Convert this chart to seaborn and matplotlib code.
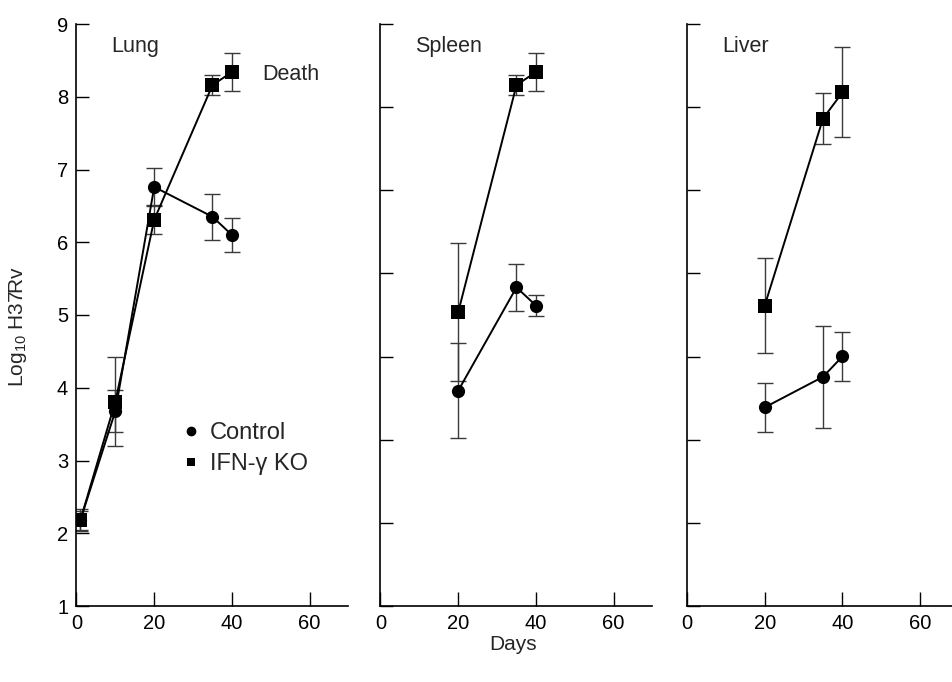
import numpy as np
import pandas as pd
import matplotlib
matplotlib.use("Agg")
import matplotlib.pyplot as plt
from matplotlib.lines import Line2D
import seaborn as sns

# ---- data ----
organs = ["Lung", "Spleen", "Liver"]
groups = ["Control", "IFN-γ KO"]

lung_days = [1, 10, 20, 35, 40]
lung_control = [2.18, 3.68, 6.76, 6.35, 6.10]
lung_control_err = [0.15, 0.29, 0.26, 0.32, 0.23]
lung_ko = [2.18, 3.81, 6.31, 8.16, 8.34]
lung_ko_err = [0.13, 0.61, 0.20, 0.14, 0.26]

spleen_days = [20, 35, 40]
spleen_control = [3.96, 5.38, 5.13]
spleen_control_err = [0.65, 0.32, 0.14]
spleen_ko = [5.04, 8.16, 8.34]
spleen_ko_err = [0.95, 0.14, 0.26]

liver_days = [20, 35, 40]
liver_control = [3.73, 4.15, 4.43]
liver_control_err = [0.34, 0.70, 0.34]
liver_ko = [5.13, 7.70, 8.06]
liver_ko_err = [0.65, 0.35, 0.62]

x_ticks = [0, 20, 40, 60]
y_ticks_lung = [1, 2, 3, 4, 5, 6, 7, 8, 9]

rows = []
for organ, days, c, ce, k, ke in [
    ("Lung", lung_days, lung_control, lung_control_err, lung_ko, lung_ko_err),
    ("Spleen", spleen_days, spleen_control, spleen_control_err, spleen_ko, spleen_ko_err),
    ("Liver", liver_days, liver_control, liver_control_err, liver_ko, liver_ko_err),
]:
    for d, v, e in zip(days, c, ce):
        rows.append(dict(organ=organ, day=d, group="Control", value=v, err=e))
    for d, v, e in zip(days, k, ke):
        rows.append(dict(organ=organ, day=d, group="IFN-γ KO", value=v, err=e))
df = pd.DataFrame(rows)

# ---- style ----
sns.set_style("ticks")
plt.rcParams["font.family"] = ["Liberation Sans", "DejaVu Sans"]
plt.rcParams["mathtext.fontset"] = "custom"
plt.rcParams["mathtext.rm"] = "Liberation Sans"
plt.rcParams["mathtext.it"] = "Liberation Sans"
plt.rcParams["axes.axisbelow"] = False

W, H = 953, 682
fig = plt.figure(figsize=(W / 100, H / 100), dpi=100)

bottom = 1 - 606 / H
height = (606 - 24) / H
width = 272 / W
lefts = [76.5 / W, 380.5 / W, 687 / W]

markers = {"Control": "o", "IFN-γ KO": "s"}

for i, organ in enumerate(organs):
    ax = fig.add_axes([lefts[i], bottom, width, height])
    ax.set_axisbelow(False)
    sub = df[df.organ == organ]
    for g in groups:
        s = sub[sub.group == g]
        ax.errorbar(s.day, s.value, yerr=s.err, fmt="none", ecolor="#3a3a3a",
                    elinewidth=1.0, capsize=6, capthick=1.0, zorder=2)
    sns.lineplot(data=sub, x="day", y="value", hue="group", style="group",
                 markers=markers, dashes=False, palette=["black", "black"],
                 markersize=9.5, linewidth=1.4, markeredgewidth=0,
                 legend=False, ax=ax, zorder=3, estimator=None)
    ax.set_xlim(0, 70)
    ax.set_ylim(1, 9)
    ax.set_xticks(x_ticks)
    ax.set_xticklabels([str(t) for t in x_ticks], fontsize=14.5)
    if i == 0:
        ax.set_yticks(y_ticks_lung)
        ax.set_yticklabels([str(t) for t in y_ticks_lung], fontsize=14.5)
    else:
        ax.set_yticks(np.linspace(1, 9, 8))
        ax.set_yticklabels([])
    ax.set_xlabel("")
    ax.set_ylabel("")
    for sp in ["top", "right"]:
        ax.spines[sp].set_visible(False)
    for sp in ["left", "bottom"]:
        ax.spines[sp].set_linewidth(1.2)
        ax.spines[sp].set_color("black")
    ax.tick_params(axis="x", which="major", bottom=True, top=False,
                   direction="in", length=10, width=1.0, color="black",
                   labelcolor="black", pad=6)
    ax.tick_params(axis="y", which="major", left=True, right=False,
                   direction="in", length=9, width=1.0, color="black",
                   labelcolor="black", pad=6)
    ax.text(9, 8.62, organ, fontsize=15.5, ha="left", va="baseline")
    if i == 0:
        ax.text(47.8, 8.23, "Death", fontsize=15.5, ha="left", va="baseline")
        handles = [
            Line2D([], [], color="black", marker="o", linestyle="none",
                   markersize=7, markeredgewidth=0, label="Control"),
            Line2D([], [], color="black", marker="s", linestyle="none",
                   markersize=6, markeredgewidth=0, label="IFN-γ KO"),
        ]
        ax.legend(handles=handles, loc="upper left", bbox_to_anchor=(27.1, 3.53),
                  bbox_transform=ax.transData, frameon=False, fontsize=17,
                  handlelength=0.8, handletextpad=0.38, labelspacing=0.38,
                  borderpad=0, borderaxespad=0)

fig.text(18 / W, 1 - 327 / H, r"Log$_{10}$ H37Rv", rotation=90,
         ha="center", va="center", fontsize=15)
fig.text(513 / W, 1 - 645 / H, "Days", ha="center", va="center", fontsize=15)

fig.savefig("out.png", dpi=100)
